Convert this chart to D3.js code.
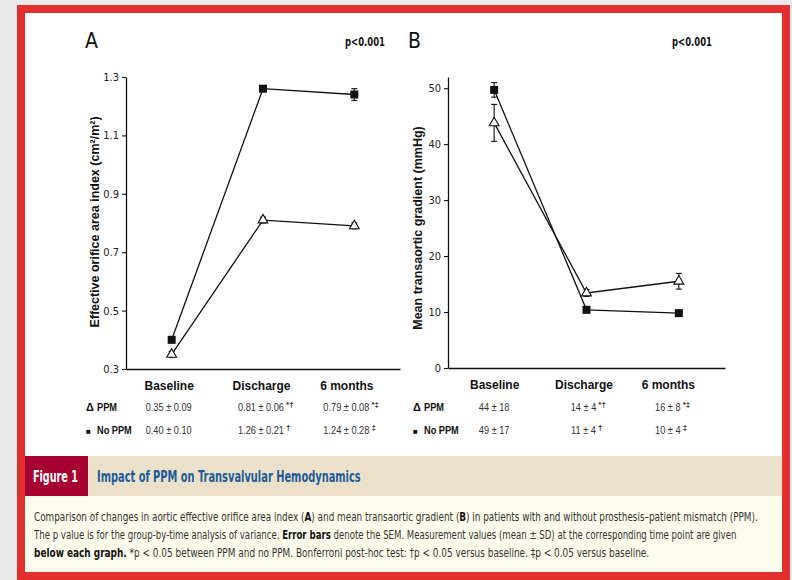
<!DOCTYPE html>
<html>
<head>
<meta charset="utf-8">
<script src="https://cdn.jsdelivr.net/npm/d3@7"></script>
<style>
  html, body { margin: 0; padding: 0; background: #e9e9e9; }
  svg { display: block; }
</style>
</head>
<body>
<div id="chart"></div>
<script>
const categories = ["Baseline", "Discharge", "6 months"];

// panel A - effective orifice area index, mean and SEM
const eoaPPM = [0.35, 0.81, 0.79];
const eoaPPMsem = [0.01, 0.01, 0.01];
const eoaNoPPM = [0.40, 1.26, 1.24];
const eoaNoPPMsem = [0.01, 0.01, 0.02];
const eoaTicks = [0.3, 0.5, 0.7, 0.9, 1.1, 1.3];

// panel B - mean transaortic gradient (mmHg)
const gradPPM = [43.8, 13.4, 15.5];
const gradPPMsem = [3.3, 0.6, 1.4];
const gradNoPPM = [49.7, 10.4, 9.8];
const gradNoPPMsem = [1.3, 0.5, 0.4];
const gradTicks = [0, 10, 20, 30, 40, 50];

// mean ± SD under each graph
const tableA_PPM = ["0.35 ± 0.09", "0.81 ± 0.06", "0.79 ± 0.08"];
const tableA_NoPPM = ["0.40 ± 0.10", "1.26 ± 0.21", "1.24 ± 0.28"];
const tableB_PPM = ["44 ± 18", "14 ± 4", "16 ± 8"];
const tableB_NoPPM = ["49 ± 17", "11 ± 4", "10 ± 4"];
const marksPPM = ["", "*†", "*‡"];
const marksNoPPM = ["", "†", "‡"];

const figureLabel = "Figure 1";
const figureTitle = "Impact of PPM on Transvalvular Hemodynamics";
// caption lines, [text, bold]
const captionLines = [
  [["Comparison of changes in aortic effective orifice area index (", false], ["A", true],
   [") and mean transaortic gradient (", false], ["B", true],
   [") in patients with and without prosthesis\u2013patient mismatch (PPM).", false]],
  [["The p value is for the group-by-time analysis of variance. ", false], ["Error bars", true],
   [" denote the SEM. Measurement values (mean \u00b1 SD) at the corresponding time point are given", false]],
  [["below each graph.", true],
   [" *p < 0.05 between PPM and no PPM. Bonferroni post-hoc test: \u2020p < 0.05 versus baseline. \u2021p < 0.05 versus baseline.", false]]
];

const W = 792, H = 580;
const NARROW = "'Liberation Sans Narrow','Arial Narrow','DejaVu Sans Condensed',sans-serif";
const ARIAL = "'Liberation Sans',Arial,sans-serif";

const svg = d3.select("#chart").append("svg")
  .attr("width", W).attr("height", H);

// frame
svg.append("rect").attr("width", W).attr("height", H).attr("fill", "#e9e9e9");
svg.append("rect").attr("x", 17).attr("y", 5).attr("width", 773).attr("height", 575).attr("fill", "#e3302f");
svg.append("rect").attr("x", 25).attr("y", 13).attr("width", 757).attr("height", 443).attr("fill", "#ffffff");
svg.append("rect").attr("x", 25).attr("y", 456).attr("width", 757).attr("height", 40).attr("fill", "#ebe1ca");
svg.append("rect").attr("x", 25).attr("y", 456).attr("width", 63).attr("height", 40).attr("fill", "#a50030");
svg.append("rect").attr("x", 25).attr("y", 496).attr("width", 757).attr("height", 76).attr("fill", "#fefcec");

// squeeze a text element horizontally to a target width
function fitWidth(sel, x, y, width) {
  const w = sel.node().getBBox().width;
  sel.attr("transform", `translate(${x},${y}) scale(${width / w},1)`);
}

// condensed look from Liberation Sans
function narrow(g, x, y, str, size, bold, anchor, sx) {
  return g.append("text")
    .attr("transform", `translate(${x},${y}) scale(${sx},1)`)
    .attr("text-anchor", anchor)
    .attr("font-family", ARIAL).attr("font-size", size)
    .attr("font-weight", bold ? "bold" : "normal")
    .attr("fill", bold ? "#111" : "#333")
    .text(str);
}

function drawPanel(o) {
  const g = svg.append("g");
  const x = d3.scalePoint().domain(categories).range([o.x0, o.x1]).padding(0.5);
  const y = d3.scaleLinear().domain(o.yDomain).range([o.yBottom, o.yTop]);

  // y axis
  const ya = g.append("g")
    .attr("transform", `translate(${o.x0},0)`)
    .call(d3.axisLeft(y).tickValues(o.ticks).tickFormat(o.fmt)
      .tickSize(4).tickSizeOuter(0).tickPadding(3));
  ya.select(".domain").attr("stroke", "#111").attr("stroke-width", 1.3);
  ya.selectAll(".tick line").attr("stroke", "#111").attr("stroke-width", 1.1);
  ya.selectAll(".tick text").attr("font-family", NARROW).attr("font-size", 11).attr("fill", "#222");

  // x axis, its labels are the table header
  const xa = g.append("g")
    .attr("transform", `translate(0,${o.yBottom})`)
    .call(d3.axisBottom(x).tickSize(0).tickPadding(12));
  xa.select(".domain").attr("stroke", "#111").attr("stroke-width", 1.3);
  xa.selectAll(".tick text").attr("font-family", ARIAL).attr("font-weight", "bold")
    .attr("font-size", 12).attr("fill", "#111")
    .attr("dx", (d, i) => o.colShift[i]);

  // axis title
  g.append("text")
    .attr("transform", `translate(${o.titleX},${o.titleY}) rotate(-90)`)
    .attr("text-anchor", "middle")
    .attr("font-family", ARIAL).attr("font-weight", "bold").attr("font-size", 12.5)
    .attr("fill", "#111")
    .text(o.yTitle);

  // panel letter and p value
  g.append("text").attr("x", o.letterX).attr("y", 48)
    .attr("font-family", NARROW).attr("font-size", 21).attr("fill", "#111").text(o.letter);
  const p = g.append("text").attr("font-family", NARROW).attr("font-weight", "bold")
    .attr("font-size", 12).attr("fill", "#111").text("p<0.001");
  fitWidth(p, o.pX, 46, 40);

  const line = d3.line().x((d, i) => x(categories[i])).y(d => y(d));
  [o.ppm, o.noPpm].forEach(s => {
    g.append("path").datum(s).attr("d", line)
      .attr("fill", "none").attr("stroke", "#111").attr("stroke-width", 1.3);
  });

  // error bars
  [[o.ppm, o.ppmSem], [o.noPpm, o.noPpmSem]].forEach(([m, e]) => {
    const eb = g.append("g").selectAll("g").data(m).join("g")
      .attr("stroke", "#111").attr("stroke-width", 1.1);
    eb.append("line")
      .attr("x1", (d, i) => x(categories[i])).attr("x2", (d, i) => x(categories[i]))
      .attr("y1", (d, i) => y(d - e[i])).attr("y2", (d, i) => y(d + e[i]));
    eb.append("line")
      .attr("x1", (d, i) => x(categories[i]) - 3).attr("x2", (d, i) => x(categories[i]) + 3)
      .attr("y1", (d, i) => y(d + e[i])).attr("y2", (d, i) => y(d + e[i]));
    eb.append("line")
      .attr("x1", (d, i) => x(categories[i]) - 3).attr("x2", (d, i) => x(categories[i]) + 3)
      .attr("y1", (d, i) => y(d - e[i])).attr("y2", (d, i) => y(d - e[i]));
  });

  // markers
  g.append("g").selectAll("path").data(o.ppm).join("path")
    .attr("d", d3.symbol(d3.symbolTriangle, 42))
    .attr("transform", (d, i) => `translate(${x(categories[i])},${y(d)})`)
    .attr("fill", "#fff").attr("stroke", "#111").attr("stroke-width", 1.1);
  g.append("g").selectAll("rect").data(o.noPpm).join("rect")
    .attr("x", (d, i) => x(categories[i]) - 4).attr("y", d => y(d) - 4)
    .attr("width", 8).attr("height", 8).attr("fill", "#111");

  // table rows
  const rows = [
    { sym: "\u0394", label: "PPM", vals: o.tPPM, marks: marksPPM, y: 411 },
    { sym: "\u25a0", label: "No PPM", vals: o.tNoPPM, marks: marksNoPPM, y: 434 }
  ];
  const sx = 0.8;
  rows.forEach(r => {
    g.append("text").attr("x", o.rowX).attr("y", r.y)
      .attr("font-family", ARIAL).attr("font-weight", "bold")
      .attr("font-size", r.sym === "\u25a0" ? 8 : 11).attr("fill", "#111").text(r.sym);
    narrow(g, o.rowX + 11, r.y, r.label, 11.5, true, "start", sx);
    r.vals.forEach((v, i) => {
      const cx = x(categories[i]) + o.colShift[i];
      const t = narrow(g, cx, r.y, v, 11.5, false, "middle", sx);
      if (r.marks[i]) {
        const w = t.node().getBBox().width * sx;
        g.append("text").attr("x", cx + w / 2 + 2).attr("y", r.y - 4)
          .attr("font-family", ARIAL).attr("font-weight", "bold")
          .attr("font-size", 8).attr("fill", "#222").text(r.marks[i]);
      }
    });
  });
}

drawPanel({
  x0: 126, x1: 400, yTop: 77, yBottom: 369,
  yDomain: [0.3, 1.3], ticks: eoaTicks, fmt: d3.format(".1f"),
  ppm: eoaPPM, ppmSem: eoaPPMsem, noPpm: eoaNoPPM, noPpmSem: eoaNoPPMsem,
  tPPM: tableA_PPM, tNoPPM: tableA_NoPPM,
  yTitle: "Effective orifice area index (cm\u00b2/m\u00b2)",
  titleX: 99, titleY: 222,
  letter: "A", letterX: 85, pX: 345, rowX: 86,
  colShift: [-3, -2, -8]
});

drawPanel({
  x0: 448, x1: 725, yTop: 77, yBottom: 368,
  yDomain: [0, 52], ticks: gradTicks, fmt: d3.format("d"),
  ppm: gradPPM, ppmSem: gradPPMsem, noPpm: gradNoPPM, noPpmSem: gradNoPPMsem,
  tPPM: tableB_PPM, tNoPPM: tableB_NoPPM,
  yTitle: "Mean transaortic gradient (mmHg)",
  titleX: 422, titleY: 228,
  letter: "B", letterX: 408, pX: 672, rowX: 413,
  colShift: [0, -3, -11]
});

// caption header
const fl = svg.append("text").attr("font-family", NARROW).attr("font-weight", "bold")
  .attr("font-size", 15).attr("fill", "#fff").text(figureLabel);
fitWidth(fl, 33, 482, 45);
const ft = svg.append("text").attr("font-family", NARROW).attr("font-weight", "bold")
  .attr("font-size", 15).attr("fill", "#1d5b98").text(figureTitle);
fitWidth(ft, 97, 482, 264);

// caption body
const lineWidths = [724, 704, 616];
captionLines.forEach((segs, li) => {
  const t = svg.append("text").attr("font-family", NARROW)
    .attr("font-size", 12).attr("fill", "#333");
  segs.forEach(([s, b]) => {
    t.append("tspan").attr("font-weight", b ? "bold" : "normal")
      .attr("fill", b ? "#111" : "#333").text(s);
  });
  fitWidth(t, 34, 521 + li * 18, lineWidths[li]);
});
</script>
</body>
</html>
